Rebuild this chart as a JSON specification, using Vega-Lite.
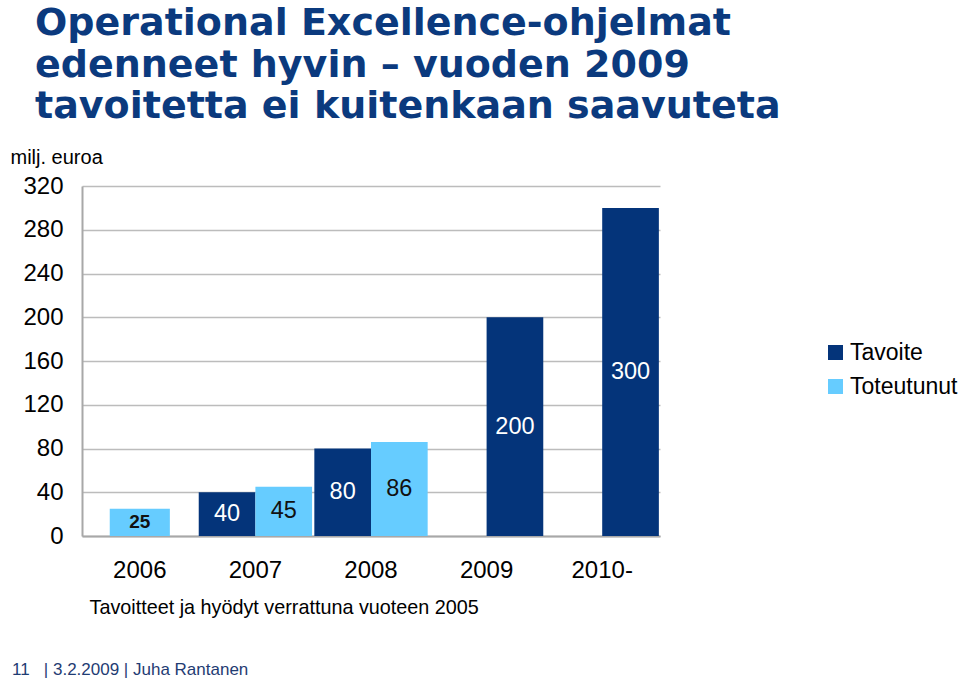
{
  "$schema": "https://vega.github.io/schema/vega-lite/v6.json",
  "background": "white",
  "padding": {"left": 10, "top": 5, "right": 0, "bottom": 0},
  "title": {
    "text": ["Operational Excellence-ohjelmat", "edenneet hyvin – vuoden 2009", "tavoitetta ei kuitenkaan saavuteta"],
    "anchor": "start",
    "frame": "bounds",
    "font": "DejaVu Sans",
    "fontWeight": "bold",
    "fontSize": 38,
    "lineHeight": 41.5,
    "color": "#0b3a7e",
    "dx": 25,
    "offset": 21
  },
  "config": {"view": {"stroke": null}, "font": "Liberation Sans", "concat": {"spacing": 0}},
  "vconcat": [
    {
      "width": 578,
      "height": 350,
      "title": {
        "text": "11\u00a0\u00a0\u00a0|\u00a03.2.2009\u00a0|\u00a0Juha Rantanen",
        "orient": "bottom",
        "anchor": "start",
        "frame": "bounds",
        "font": "Liberation Sans",
        "fontSize": 17,
        "fontWeight": "normal",
        "color": "#1f3c73",
        "dx": 2,
        "offset": 45
      },
      "data": {
        "values": [
          {"vuosi": "2006", "sarja": "Toteutunut", "arvo": 25},
          {"vuosi": "2007", "sarja": "Tavoite", "arvo": 40},
          {"vuosi": "2007", "sarja": "Toteutunut", "arvo": 45},
          {"vuosi": "2008", "sarja": "Tavoite", "arvo": 80},
          {"vuosi": "2008", "sarja": "Toteutunut", "arvo": 86},
          {"vuosi": "2009", "sarja": "Tavoite", "arvo": 200},
          {"vuosi": "2010-", "sarja": "Tavoite", "arvo": 300}
        ]
      },
      "encoding": {
        "x": {
          "field": "vuosi",
          "type": "nominal",
          "scale": {"domain": ["2006", "2007", "2008", "2009", "2010-"], "paddingInner": 0, "paddingOuter": 0},
          "axis": {
            "title": "Tavoitteet ja hyödyt verrattuna vuoteen 2005",
            "labelAngle": 0,
            "labelFontSize": 24,
            "labelColor": "black",
            "labelPadding": 22,
            "ticks": false,
            "domainColor": "#a8a8a8",
            "domainWidth": 2,
            "titleFontSize": 19.8,
            "titleFontWeight": "normal",
            "titleColor": "black",
            "titleX": 7,
            "titleY": 71,
            "titleAlign": "left",
            "titleBaseline": "middle"
          }
        },
        "color": {
          "field": "sarja",
          "type": "nominal",
          "scale": {"domain": ["Tavoite", "Toteutunut"], "range": ["#04347a", "#66ccff"]},
          "legend": {
            "title": null,
            "orient": "none",
            "legendX": 742,
            "legendY": 155,
            "symbolType": "square",
            "symbolSize": 225,
            "symbolStrokeWidth": 0,
            "labelFontSize": 23,
            "labelColor": "black",
            "labelOffset": 3,
            "rowPadding": 10
          }
        }
      },
      "layer": [
        {
          "transform": [{"filter": "datum.vuosi == '2006'"}],
          "mark": {"type": "bar", "width": {"band": 0.52}},
          "encoding": {
            "y": {
              "field": "arvo",
              "type": "quantitative",
              "scale": {"domain": [0, 320], "nice": false},
              "axis": {
                "title": "milj. euroa",
                "values": [0, 40, 80, 120, 160, 200, 240, 280, 320],
                "grid": true,
                "gridColor": "#bcbcbc",
                "gridWidth": 1.5,
                "ticks": false,
                "domainColor": "#a8a8a8",
                "domainWidth": 2,
                "labelFontSize": 24,
                "labelColor": "black",
                "labelPadding": 19,
                "titleAngle": 0,
                "titleX": -72,
                "titleY": -29,
                "titleAlign": "left",
                "titleBaseline": "middle",
                "titleFontSize": 20,
                "titleFontWeight": "normal",
                "titleColor": "black"
              }
            }
          }
        },
        {
          "transform": [{"filter": "datum.vuosi == '2006'"}],
          "mark": {"type": "text", "fontWeight": "bold", "fontSize": 19, "baseline": "middle"},
          "encoding": {
            "y": {"field": "arvo", "type": "quantitative", "scale": {"domain": [0, 640], "nice": false}, "axis": null},
            "text": {"field": "arvo"},
            "color": {"value": "#111111"}
          }
        },
        {
          "transform": [{"filter": "datum.vuosi == '2007' || datum.vuosi == '2008'"}],
          "mark": {"type": "bar"},
          "encoding": {
            "xOffset": {"field": "sarja", "type": "nominal", "scale": {"type": "band", "domain": ["Tavoite", "Toteutunut"], "paddingInner": 0, "paddingOuter": 0.02}},
            "y": {"field": "arvo", "type": "quantitative", "scale": {"domain": [0, 320], "nice": false}, "axis": null}
          }
        },
        {
          "transform": [{"filter": "datum.vuosi == '2007' || datum.vuosi == '2008'"}],
          "mark": {"type": "text", "fontSize": 23.5, "baseline": "middle"},
          "encoding": {
            "xOffset": {"field": "sarja", "type": "nominal", "scale": {"type": "band", "domain": ["Tavoite", "Toteutunut"], "paddingInner": 0, "paddingOuter": 0.02}},
            "y": {"field": "arvo", "type": "quantitative", "scale": {"domain": [0, 640], "nice": false}, "axis": null},
            "text": {"field": "arvo"},
            "color": {"condition": {"test": "datum.sarja == 'Tavoite'", "value": "white"}, "value": "#111111"}
          }
        },
        {
          "transform": [{"filter": "datum.vuosi == '2009' || datum.vuosi == '2010-'"}],
          "mark": {"type": "bar"},
          "encoding": {
            "xOffset": {"field": "sarja", "type": "nominal", "scale": {"type": "band", "domain": ["Toteutunut", "Tavoite"], "paddingInner": 0, "paddingOuter": 0.02}},
            "y": {"field": "arvo", "type": "quantitative", "scale": {"domain": [0, 320], "nice": false}, "axis": null}
          }
        },
        {
          "transform": [{"filter": "datum.vuosi == '2009' || datum.vuosi == '2010-'"}],
          "mark": {"type": "text", "fontSize": 23.5, "baseline": "middle"},
          "encoding": {
            "xOffset": {"field": "sarja", "type": "nominal", "scale": {"type": "band", "domain": ["Toteutunut", "Tavoite"], "paddingInner": 0, "paddingOuter": 0.02}},
            "y": {"field": "arvo", "type": "quantitative", "scale": {"domain": [0, 640], "nice": false}, "axis": null},
            "text": {"field": "arvo"},
            "color": {"condition": {"test": "datum.sarja == 'Tavoite'", "value": "white"}, "value": "#111111"}
          }
        }
      ],
      "resolve": {"scale": {"y": "independent", "xOffset": "independent"}, "axis": {"y": "independent"}}
    }
  ]
}
